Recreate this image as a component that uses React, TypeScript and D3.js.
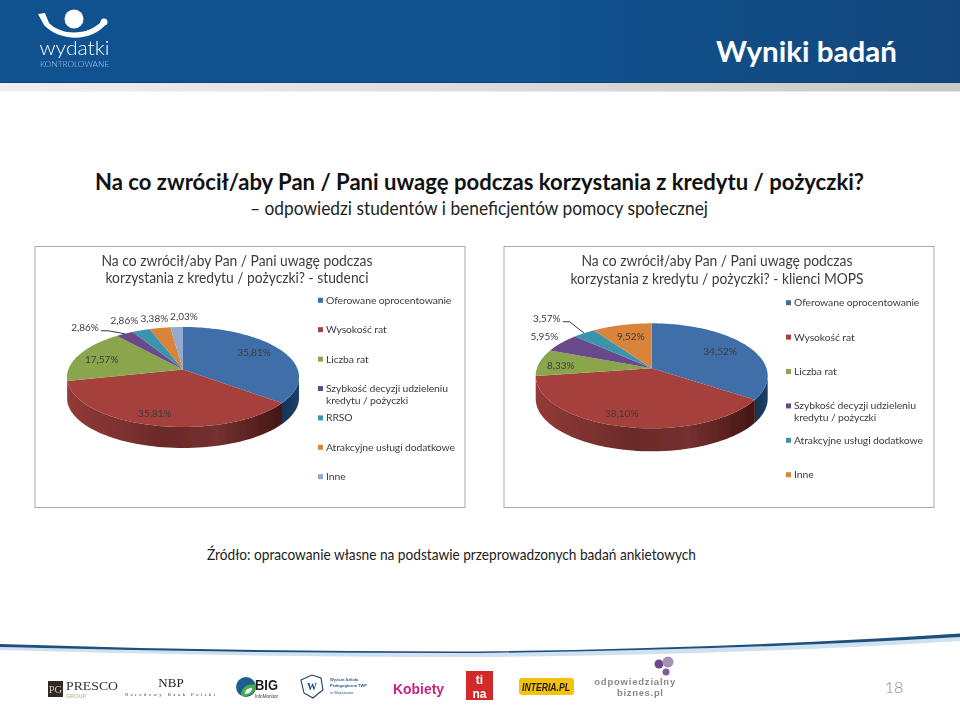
import React from "react";
import * as d3 from "d3";

const studentLabels = [
  "Oferowane oprocentowanie",
  "Wysokość rat",
  "Liczba rat",
  "Szybkość decyzji udzieleniu|kredytu / pożyczki",
  "RRSO",
  "Atrakcyjne usługi dodatkowe",
  "Inne",
];
const studentValues = [35.81, 35.81, 17.57, 2.86, 2.86, 3.38, 2.03];

const mopsLabels = [
  "Oferowane oprocentowanie",
  "Wysokość rat",
  "Liczba rat",
  "Szybkość decyzji udzieleniu|kredytu / pożyczki",
  "Atrakcyjne usługi dodatkowe",
  "Inne",
];
const mopsValues = [34.52, 38.1, 8.33, 5.95, 3.57, 9.52];

const studentColors = ["#3f6ea8", "#a5403e", "#8aa54c", "#6a4a8a", "#3a93ac", "#d9843b", "#93a9d0"];
const mopsColors = ["#3f6ea8", "#a5403e", "#8aa54c", "#6a4a8a", "#3a93ac", "#d9843b"];
const wallDark = ["url(#wall-blue)", "url(#wall-red)"];

const FONT = "Lato, 'Open Sans', sans-serif";
const TEXT = "#3c3c3c";

interface PieProps {
  frame: [number, number, number, number];
  title: string[];
  titleX: number;
  titleY: number[];
  titleW: number[];
  labels: string[];
  values: number[];
  colors: string[];
  cx: number;
  cy: number;
  R: number;
  b: number;
  c: number;
  depth: number;
  legendX: number;
  legendY: [number, number];
  // label offset from the slice's point on the rim
  shifts: [number, number][];
  leader: number;
}

function PieChart(p: PieProps) {
  const slices = d3.pie<number>().sort(null)(p.values);

  // circle -> screen, with the perspective of the Excel 3D pie
  const project = (a: number, drop = 0): [number, number] => {
    const u = Math.sin(a);
    const v = -Math.cos(a);
    const d = 1 + p.c * v;
    return [p.cx + (p.R * u) / d, p.cy + (p.b * v) / d + drop];
  };
  const line = d3.line<[number, number]>();
  const samples = (a0: number, a1: number) =>
    d3.range(0, 61).map((i) => a0 + ((a1 - a0) * i) / 60);

  const wallFrom = Math.acos(p.c);
  const wallTo = 2 * Math.PI - wallFrom;

  const legendScale = d3.scaleLinear().domain([0, 1]).range(p.legendY);

  const [fx, fy, fw, fh] = p.frame;

  return (
    <g fontFamily={FONT} filter="url(#soft)">
      <rect x={fx} y={fy} width={fw} height={fh} fill="#fff" stroke="#a9a9a9" strokeWidth={1} />
      {p.title.map((t, i) => (
        <text
          key={t}
          x={p.titleX}
          y={p.titleY[i]}
          textAnchor="middle"
          fontSize={14.4}
          textLength={p.titleW[i]}
          lengthAdjust="spacingAndGlyphs"
          fill={TEXT}
        >
          {t}
        </text>
      ))}

      {slices.map((s, i) => {
        const a0 = Math.max(s.startAngle, wallFrom);
        const a1 = Math.min(s.endAngle, wallTo);
        if (a1 <= a0) return null;
        const top = samples(a0, a1).map((a) => project(a));
        const bottom = samples(a1, a0).map((a) => project(a, p.depth));
        return (
          <path
            key={"wall" + i}
            d={line([...top, ...bottom])! + "Z"}
            fill={wallDark[i] ?? "#333"}
          />
        );
      })}

      {slices.map((s, i) => {
        const rim = samples(s.startAngle, s.endAngle).map((a) => project(a));
        return (
          <path
            key={"top" + i}
            d={line([[p.cx, p.cy], ...rim])! + "Z"}
            fill={p.colors[i]}
          />
        );
      })}

      {slices.map((s, i) => {
        const mid = (s.startAngle + s.endAngle) / 2;
        const rim = project(mid);
        const x = rim[0] + p.shifts[i][0];
        const y = rim[1] + p.shifts[i][1];
        const text = d3.format(".2f")(p.values[i]).replace(".", ",") + "%";
        return (
          <g key={"label" + i}>
            {i === p.leader && (
              <path
                d={line([[x + 16, y + 3], [x + 23, y + 3], rim])!}
                fill="none"
                stroke="#222"
                strokeWidth={0.9}
              />
            )}
            <text x={x} y={y + 3.6} textAnchor="middle" fontSize={10} fill={TEXT}>
              {text}
            </text>
          </g>
        );
      })}

      {p.labels.map((l, i) => {
        const y = legendScale(i);
        const parts = l.split("|");
        return (
          <g key={"legend" + i}>
            <rect x={p.legendX} y={y - 2.5} width={5} height={5} fill={p.colors[i]} />
            {parts.map((part, j) => (
              <text
                key={part}
                x={p.legendX + 8}
                y={y + 3.5 + j * 12}
                fontSize={10.4}
                letterSpacing={-0.1}
                fill={TEXT}
              >
                {part}
              </text>
            ))}
          </g>
        );
      })}
    </g>
  );
}

function Header() {
  return (
    <g>
      <rect x={0} y={0} width={960} height={82} fill="url(#head)" />
      <rect x={0} y={82} width={960} height={1} fill="#134272" />
      <rect x={0} y={83} width={960} height={8.5} fill="url(#strip)" />
      <text x={897} y={62} textAnchor="end" fontFamily="Lato, sans-serif" fontWeight={700} fontSize={28} textLength={181} lengthAdjust="spacingAndGlyphs" fill="#fff">
        Wyniki badań
      </text>
      <g filter="url(#soft)">
        <circle cx={74} cy={19} r={9.5} fill="#fff" />
        <path d="M38 14 L45 13 L49 23 C62 36 88 36 102 21 L106 24 C92 42 60 42 44 25 Z" fill="#fff" />
        <circle cx={104} cy={22} r={3.5} fill="#fff" />
        <text x={74.5} y={55} textAnchor="middle" fontFamily="Lato, sans-serif" fontWeight={300} fontSize={19} textLength={70} lengthAdjust="spacingAndGlyphs" fill="#fff">
          wydatki
        </text>
        <text x={74.5} y={67} textAnchor="middle" fontFamily="Lato, sans-serif" fontWeight={300} fontSize={8} textLength={69} lengthAdjust="spacingAndGlyphs" fill="#a9c4de">
          KONTROLOWANE
        </text>
      </g>
    </g>
  );
}

function Footer() {
  return (
    <g>
      <path d="M0 647 Q 240 654 480 653 Q 740 650 960 637 L960 641 Q 740 655 480 657 Q 240 657 0 650 Z" fill="#cfe0ee" />
      <path d="M0 644 Q 240 652 480 651.5 Q 740 648 960 633.5 L960 637 Q 740 650 480 653 Q 240 653.5 0 647 Z" fill="#1d4f7f" />
      <g filter="url(#soft)">
        <rect x={48} y={681} width={15} height={16} fill="#2d2a26" />
        <text x={55.5} y={693} textAnchor="middle" fontFamily="Liberation Serif" fontSize={10.5} fill="#d9cfae">PG</text>
        <text x={66} y={689.5} fontFamily="Liberation Serif" fontSize={13.5} textLength={52} lengthAdjust="spacingAndGlyphs" fill="#333">PRESCO</text>
        <text x={66} y={698} fontFamily="Liberation Sans" fontSize={5.5} fill="#b9a878">GROUP</text>

        <text x={171} y={687} textAnchor="middle" fontFamily="Liberation Serif" fontSize={13} fill="#222">NBP</text>
        <text x={171} y={696} textAnchor="middle" fontFamily="Liberation Serif" fontSize={5} letterSpacing={2.3} fill="#444">Narodowy Bank Polski</text>

        <circle cx={246} cy={687} r={10} fill="#1f5f8f" />
        <path d="M241 696 C241 688 247 683 256 685 C256 692 250 697 241 696 Z" fill="#4caf50" />
        <path d="M245 694 C245 690 248 688 252 688 C252 691 249 694 245 694 Z" fill="#fff" />
        <text x={255} y={690} fontFamily="Liberation Sans" fontWeight={700} fontSize={15.5} textLength={23} lengthAdjust="spacingAndGlyphs" fill="#1b1b1b">BIG</text>
        <text x={255} y={698} fontFamily="Liberation Sans" fontSize={5.5} textLength={23} lengthAdjust="spacingAndGlyphs" fill="#333">InfoMonitor</text>

        <path d="M301 680 L312 675 L321 678 L323 690 L319 693 L313 698 L304 693 Z" fill="#fff" stroke="#1d3f66" strokeWidth={1.1} />
        <text x={312} y={690} textAnchor="middle" fontFamily="Liberation Serif" fontWeight={700} fontSize={10} fill="#1d4f7f">W</text>
        <text x={330} y={681} fontFamily="Liberation Sans" fontWeight={700} fontSize={4} fill="#2e5a8a">Wyższa Szkoła</text>
        <text x={330} y={687} fontFamily="Liberation Sans" fontWeight={700} fontSize={4} fill="#2e5a8a">Pedagogiczna TWP</text>
        <text x={330} y={694} fontFamily="Liberation Sans" fontSize={4} fill="#2e5a8a">w Warszawie</text>

        <text x={393} y={694} fontFamily="Liberation Sans" fontWeight={700} fontSize={14} textLength={51} lengthAdjust="spacingAndGlyphs" fill="#c8237e">Kobiety</text>

        <rect x={466} y={671} width={27} height={29} fill="#d22b2b" />
        <text x={479.5} y={683.5} textAnchor="middle" fontFamily="Liberation Sans" fontWeight={700} fontSize={12} fill="#fff">ti</text>
        <text x={479.5} y={697.5} textAnchor="middle" fontFamily="Liberation Sans" fontWeight={700} fontSize={12} fill="#fff">na</text>

        <rect x={519} y={678} width={55} height={17} rx={3} fill="#f4c20d" />
        <text x={546} y={690.5} textAnchor="middle" fontFamily="Liberation Sans" fontWeight={700} fontStyle="italic" fontSize={10.5} textLength={48} lengthAdjust="spacingAndGlyphs" fill="#1a1a1a">INTERIA.PL</text>

        <circle cx={659} cy={664} r={4.5} fill="#6e4a8e" />
        <circle cx={668} cy={662} r={5.5} fill="#a78fb8" />
        <circle cx={666} cy={672} r={3.5} fill="#7c5b9b" />
        <text x={634.7} y={685} textAnchor="middle" fontFamily="Liberation Sans" fontWeight={700} fontSize={9.5} textLength={81} lengthAdjust="spacing" fill="#8a8a8a">odpowiedzialny</text>
        <text x={640} y={696} textAnchor="middle" fontFamily="Liberation Sans" fontWeight={700} fontSize={9.5} textLength={46} lengthAdjust="spacing" fill="#8a8a8a">biznes.pl</text>
      </g>
      <text x={894} y={693} textAnchor="middle" fontFamily={FONT} fontWeight={300} fontSize={16} fill="#8c8c8c">18</text>
    </g>
  );
}

export default function App() {
  return (
    <svg
      width={960}
      height={708}
      style={{ position: "absolute", left: 0, top: 0, background: "#fff" }}
    >
      <defs>
        <linearGradient id="head" x1="0" x2="1" y1="0" y2="0">
          <stop offset="0" stopColor="#10528f" />
          <stop offset="0.55" stopColor="#10528f" />
          <stop offset="1" stopColor="#13477c" />
        </linearGradient>
        <linearGradient id="strip" x1="0" x2="1" y1="0" y2="0">
          <stop offset="0" stopColor="#efefef" />
          <stop offset="1" stopColor="#c9c9c9" />
        </linearGradient>
        <linearGradient id="wall-red" x1="0" x2="1" y1="0" y2="0">
          <stop offset="0" stopColor="#923a38" />
          <stop offset="0.45" stopColor="#6a2a28" />
          <stop offset="0.7" stopColor="#743030" />
          <stop offset="1" stopColor="#451614" />
        </linearGradient>
        <linearGradient id="wall-blue" x1="0" x2="1" y1="0" y2="0">
          <stop offset="0" stopColor="#163355" />
          <stop offset="1" stopColor="#1d3f66" />
        </linearGradient>
        <filter id="soft" x="-5%" y="-5%" width="110%" height="110%">
          <feGaussianBlur stdDeviation="0.35" />
        </filter>
      </defs>

      <Header />

      <text x={479.5} y={190} textAnchor="middle" fontFamily={FONT} fontWeight={700} fontSize={22} textLength={769} lengthAdjust="spacingAndGlyphs" fill="#111">
        Na co zwrócił/aby Pan / Pani uwagę podczas korzystania z kredytu / pożyczki?
      </text>
      <text x={479} y={215} textAnchor="middle" fontFamily={FONT} fontSize={19.5} textLength={458} lengthAdjust="spacingAndGlyphs" fill="#222">
        – odpowiedzi studentów i beneficjentów pomocy społecznej
      </text>

      <PieChart
        frame={[35, 246.5, 430, 261]}
        title={["Na co zwrócił/aby Pan / Pani uwagę podczas", "korzystania z kredytu / pożyczki? - studenci"]}
        titleX={237}
        titleY={[266, 283]}
        titleW={[271, 263]}
        labels={studentLabels}
        values={studentValues}
        colors={studentColors}
        cx={183}
        cy={369.5}
        R={114.7}
        b={48.9}
        c={-0.15}
        depth={21}
        legendX={318}
        legendY={[300.3, 329.7]}
        shifts={[[-26, 3], [1.5, -12], [22.5, 5], [-39.7, -6], [-16.7, -9.7], [-5.5, -10], [7.3, -10.8]]}
        leader={3}
      />
      <PieChart
        frame={[504, 246.5, 430, 261]}
        title={["Na co zwrócił/aby Pan / Pani uwagę podczas", "korzystania z kredytu / pożyczki? - klienci MOPS"]}
        titleX={717}
        titleY={[266, 284]}
        titleW={[271, 293]}
        labels={mopsLabels}
        values={mopsValues}
        colors={mopsColors}
        cx={651.7}
        cy={368.3}
        R={114.8}
        b={51.4}
        c={-0.143}
        depth={23}
        legendX={786}
        legendY={[302.7, 337.1]}
        shifts={[[-26.8, 5.2], [-0.3, -12.8], [21.3, 2.3], [-17, -6.9], [-37.4, -14.4], [8.9, 10.9]]}
        leader={4}
      />

      <text x={451.5} y={560} textAnchor="middle" fontFamily={FONT} fontSize={15} textLength={489} lengthAdjust="spacingAndGlyphs" fill="#222">
        Źródło: opracowanie własne na podstawie przeprowadzonych badań ankietowych
      </text>

      <Footer />
    </svg>
  );
}
